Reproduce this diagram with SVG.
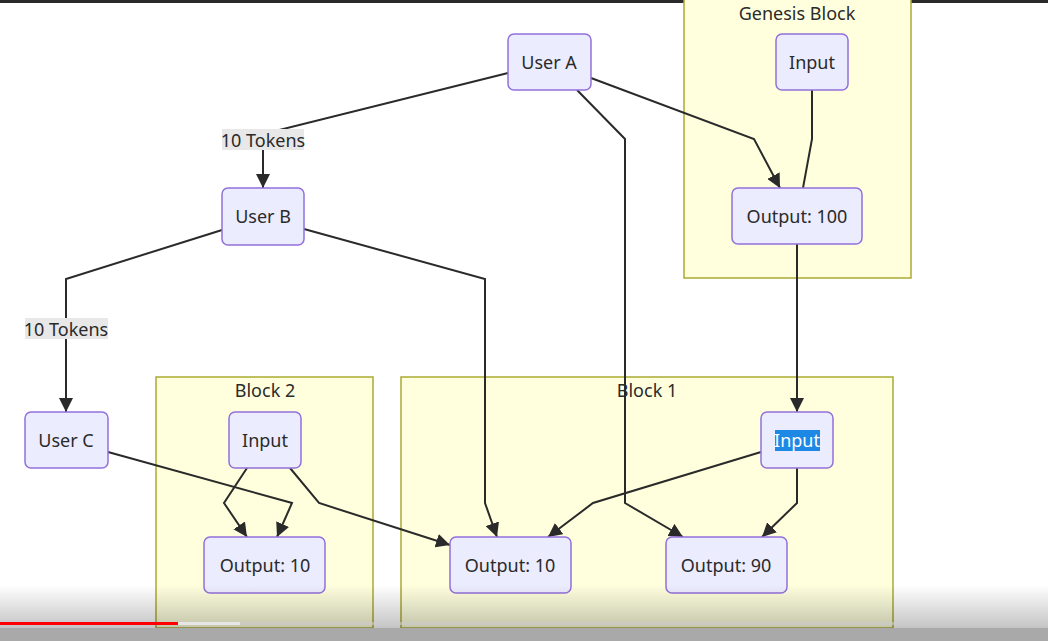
<svg xmlns="http://www.w3.org/2000/svg" width="1048" height="641" viewBox="0 0 1048 641">
<style>
.node rect{fill:#ECECFF;stroke:#9370DB;stroke-width:1.5}
.cluster rect{fill:#ffffde;stroke:#aaaa33;stroke-width:1.5}
text{font-family:"Noto Sans","Open Sans","DejaVu Sans",sans-serif;font-size:18px;fill:#2a2a2a;text-anchor:middle;dominant-baseline:central}
.edge{fill:none;stroke:#2a2a2a;stroke-width:2}
.arr{marker-end:url(#arrow)}
.lbl rect{fill:#e8e8e8}
</style>
<defs>
<marker id="arrow" viewBox="0 0 10 10" refX="10" refY="5" markerWidth="7" markerHeight="7" orient="auto">
<path d="M0,0 L10,5 L0,10 z" fill="#2a2a2a"/>
</marker>
<linearGradient id="shade" x1="0" y1="0" x2="0" y2="1">
<stop offset="0" stop-color="#000" stop-opacity="0"/>
<stop offset="1" stop-color="#000" stop-opacity="0.3"/>
</linearGradient>
</defs>
<rect width="1048" height="641" fill="#ffffff"/>
<rect x="0" y="0" width="1048" height="3" fill="#2a2a2a"/>

<g id="genesis-block" class="cluster">
<rect x="684" y="-10" width="227" height="288"/>
<text x="797" y="13">Genesis Block</text>
</g>
<g id="block-2" class="cluster">
<rect x="156" y="377" width="217" height="251"/>
<text x="265" y="390">Block 2</text>
</g>
<g id="block-1" class="cluster">
<rect x="401" y="377" width="492" height="251"/>
<text x="647" y="390">Block 1</text>
</g>

<g id="connectors">
<path class="edge arr" d="M508,73 L263,134 L263,188"/>
<path class="edge arr" d="M222,230 L66,279 L66,412"/>
<path class="edge arr" d="M591,78 L754,139 L780,188"/>
<path class="edge" d="M812,90 L812,139 L803,188"/>
<path class="edge arr" d="M797,244 L797,412"/>
<path class="edge arr" d="M577,90 L625,139 L625,503 L683,537"/>
<path class="edge arr" d="M304,229 L485,279 L485,503 L497,537"/>
<path class="edge arr" d="M761,452 L593,503 L548,537"/>
<path class="edge arr" d="M797,468 L797,503 L762,537"/>
<path class="edge arr" d="M108,452 L292,503 L277,537"/>
<path class="edge arr" d="M247,468 L224,503 L247,537"/>
<path class="edge arr" d="M290,468 L319,503 L450,545"/>
<g class="lbl"><rect x="222" y="129" width="82" height="21"/><text x="263" y="139.5">10 Tokens</text></g>
<g class="lbl"><rect x="25" y="318" width="83" height="21"/><text x="66" y="328.5">10 Tokens</text></g>
</g>

<g id="user-a" class="node"><rect x="508" y="34" width="83" height="56" rx="6"/><text x="549" y="62">User A</text></g>
<g id="genesis-input" class="node"><rect x="776" y="34" width="72" height="56" rx="6"/><text x="812" y="62">Input</text></g>
<g id="genesis-output-100" class="node"><rect x="732" y="188" width="130" height="56" rx="6"/><text x="797" y="216">Output: 100</text></g>
<g id="user-b" class="node"><rect x="222" y="188" width="82" height="57" rx="6"/><text x="263" y="216">User B</text></g>
<g id="user-c" class="node"><rect x="25" y="412" width="83" height="56" rx="6"/><text x="66" y="440">User C</text></g>
<g id="block2-input" class="node"><rect x="229" y="412" width="72" height="56" rx="6"/><text x="265" y="440">Input</text></g>
<g id="block2-output-10" class="node"><rect x="204" y="537" width="121" height="56" rx="6"/><text x="265" y="565">Output: 10</text></g>
<g id="block1-input" class="node"><rect x="761" y="412" width="72" height="56" rx="6"/><rect x="775" y="430" width="45" height="21" style="fill:#1e88e5;stroke:none"/><text x="797" y="440" style="fill:#ffffff">Input</text></g>
<g id="block1-output-10" class="node"><rect x="450" y="537" width="121" height="56" rx="6"/><text x="510" y="565">Output: 10</text></g>
<g id="block1-output-90" class="node"><rect x="666" y="537" width="121" height="56" rx="6"/><text x="726" y="565">Output: 90</text></g>

<rect x="0" y="585" width="1048" height="56" fill="url(#shade)"/>
<rect x="0" y="622" width="1048" height="3" fill="#cccccc" opacity="0.6"/>
<rect x="0" y="622" width="178" height="3" fill="#ff0000"/>
<rect x="178" y="622" width="62" height="3" fill="#e6e6e6"/>
<rect x="0" y="628" width="1048" height="13" fill="#a9a9a9"/>
</svg>
